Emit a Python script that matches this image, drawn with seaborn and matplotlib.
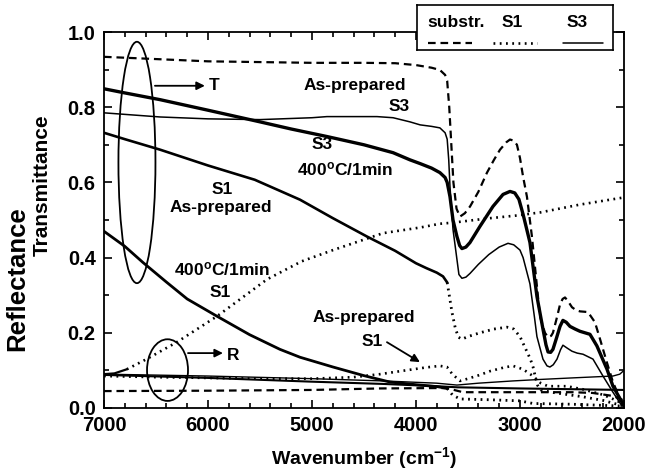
import matplotlib
matplotlib.use("Agg")
import matplotlib.pyplot as plt
import seaborn as sns
import pandas as pd
from matplotlib.patches import Ellipse
from matplotlib.ticker import MultipleLocator

# ---------------- data (wavenumber cm^-1, value) ----------------
substr_T = [(7000,0.934),(6500,0.928),(6000,0.922),(5500,0.920),(5000,0.918),(4500,0.918),(4200,0.917),
            (4000,0.912),(3850,0.905),(3770,0.899),(3720,0.886),(3700,0.870),(3680,0.800),(3660,0.700),
            (3640,0.600),(3610,0.530),(3577,0.509),(3530,0.518),(3480,0.536),(3400,0.575),(3317,0.626),
            (3250,0.660),(3192,0.687),(3130,0.707),(3096,0.714),(3060,0.711),(3029,0.700),(3000,0.665),
            (2970,0.615),(2933,0.562),(2885,0.456),(2837,0.324),(2808,0.244),(2760,0.200),(2730,0.188),
            (2700,0.192),(2683,0.200),(2650,0.235),(2615,0.275),(2590,0.290),(2567,0.294),(2540,0.285),
            (2500,0.268),(2460,0.260),(2423,0.257),(2380,0.256),(2346,0.255),(2279,0.228),(2230,0.183),
            (2163,0.120),(2106,0.069),(2038,0.024),(2000,0.005)]

S3_400_T = [(7000,0.849),(6800,0.838),(6460,0.820),(6000,0.792),(5500,0.761),(5200,0.742),(4856,0.722),
            (4500,0.700),(4220,0.679),(4058,0.660),(3960,0.650),(3850,0.638),(3770,0.626),(3720,0.613),
            (3700,0.600),(3673,0.562),(3644,0.500),(3606,0.456),(3580,0.432),(3558,0.424),(3520,0.428),
            (3481,0.440),(3385,0.483),(3260,0.536),(3163,0.568),(3096,0.576),(3050,0.572),(3010,0.555),
            (2970,0.515),(2904,0.440),(2837,0.297),(2779,0.210),(2750,0.168),(2730,0.149),(2705,0.148),
            (2683,0.156),(2650,0.185),(2615,0.217),(2587,0.233),(2555,0.228),(2519,0.217),(2470,0.210),
            (2423,0.204),(2327,0.196),(2260,0.165),(2163,0.103),(2106,0.058),(2020,0.016),(2000,0.005)]

S3_asp_T = [(7000,0.785),(6460,0.774),(6000,0.769),(5500,0.767),(5000,0.772),(4856,0.775),(4375,0.775),
            (4220,0.772),(4058,0.761),(3960,0.753),(3850,0.749),(3770,0.745),(3720,0.732),(3700,0.715),
            (3685,0.660),(3673,0.589),(3644,0.475),(3606,0.395),(3587,0.355),(3558,0.345),(3520,0.348),
            (3480,0.358),(3400,0.382),(3300,0.408),(3200,0.428),(3115,0.438),(3060,0.434),(3000,0.420),
            (2970,0.400),(2904,0.330),(2860,0.240),(2837,0.190),(2779,0.130),(2740,0.112),(2712,0.109),
            (2680,0.115),(2644,0.130),(2610,0.155),(2587,0.167),(2550,0.160),(2500,0.151),(2450,0.146),
            (2394,0.143),(2298,0.130),(2202,0.085),(2106,0.042),(2030,0.010),(2000,0.003)]

S1_asp_T = [(7000,0.732),(6800,0.715),(6460,0.687),(6000,0.645),(5550,0.607),(5115,0.554),(4800,0.505),
            (4471,0.456),(4200,0.418),(4000,0.385),(3900,0.372),(3800,0.360),(3740,0.350),(3700,0.334),
            (3680,0.300),(3654,0.255),(3620,0.210),(3590,0.188),(3558,0.183),(3500,0.190),(3385,0.200),
            (3250,0.210),(3125,0.215),(3060,0.210),(3000,0.190),(2950,0.160),(2900,0.130),(2875,0.110),
            (2850,0.080),(2830,0.060),(2800,0.048),(2700,0.042),(2600,0.038),(2400,0.030),(2200,0.020),
            (2000,0.005)]

S1_400_T = [(7000,0.470),(6800,0.430),(6625,0.387),(6400,0.335),(6200,0.290),(5913,0.244),(5600,0.195),
            (5308,0.156),(5115,0.135),(4798,0.109),(4500,0.086),(4250,0.069),(4000,0.062),(3800,0.057),
            (3700,0.052),(3650,0.035),(3577,0.024),(3300,0.022),(3000,0.019),(2875,0.012),(2500,0.010),
            (2000,0.005)]

S1_400_R = [(7000,0.090),(6900,0.092),(6780,0.103),(6590,0.130),(6300,0.175),(5913,0.244),(5433,0.342),
            (5100,0.390),(4798,0.420),(4317,0.465),(3960,0.480),(3770,0.490),(3644,0.493),(3317,0.504),
            (3029,0.512),(2808,0.520),(2423,0.541),(2000,0.560)]

S1_asp_R = [(7000,0.085),(6500,0.082),(6000,0.080),(5500,0.078),(5000,0.078),(4600,0.082),(4346,0.090),
            (4100,0.100),(3900,0.108),(3770,0.112),(3702,0.109),(3650,0.090),(3577,0.072),(3500,0.078),
            (3385,0.088),(3288,0.098),(3150,0.108),(3067,0.112),(2970,0.103),(2875,0.085),(2800,0.066),
            (2730,0.058),(2550,0.058),(2400,0.050),(2200,0.035),(2106,0.024),(2000,0.010)]

substr_R = [(7000,0.045),(6000,0.046),(5000,0.048),(4346,0.052),(3800,0.053),(3702,0.053),(3620,0.047),
            (3548,0.042),(3000,0.042),(2500,0.042),(2300,0.040),(2106,0.032),(2000,0.020)]

S3_asp_R = [(7000,0.090),(6000,0.085),(5000,0.078),(4317,0.072),(3800,0.066),(3606,0.061),(3400,0.066),
            (3067,0.072),(2800,0.076),(2500,0.080),(2106,0.085),(2040,0.090),(2000,0.100)]

S3_400_R = [(7000,0.088),(6000,0.080),(5000,0.070),(4317,0.064),(3800,0.058),(3600,0.055),(3000,0.052),
            (2500,0.050),(2000,0.048)]

x_ticks = [7000, 6000, 5000, 4000, 3000, 2000]
y_ticks = [0.0, 0.2, 0.4, 0.6, 0.8, 1.0]
legend_labels = ["substr.", "S1", "S3"]

# ---------------- style ----------------
sns.set_theme(style="ticks")
plt.rcParams.update({
    "font.family": ["Liberation Sans", "DejaVu Sans"],
    "font.weight": "bold",
    "axes.labelweight": "bold",
    "text.color": "black",
    "axes.labelcolor": "black",
    "xtick.color": "black",
    "ytick.color": "black",
    "mathtext.fontset": "custom",
    "mathtext.rm": "Liberation Sans:bold",
    "mathtext.it": "Liberation Sans:bold",
    "mathtext.bf": "Liberation Sans:bold",
    "lines.scale_dashes": False,
    "axes.linewidth": 1.3,
    "axes.edgecolor": "black",
})

DASH = (0, (5.5, 3.5))
DOT = (0, (1.3, 3.2))

fig = plt.figure(figsize=(6.45, 4.72), dpi=100)
ax = fig.add_axes([0.1612, 0.1356, 0.8062, 0.7966])


def draw(points, ls, lw, solid_from=None, solid_lw=None):
    df = pd.DataFrame(points, columns=["wn", "val"])
    if solid_from is None:
        sns.lineplot(data=df, x="wn", y="val", ax=ax, color="black", linestyle=ls,
                     linewidth=lw, sort=False, estimator=None)
    else:
        a = df[df.wn >= solid_from]
        b = df[df.wn <= solid_from]
        sns.lineplot(data=a, x="wn", y="val", ax=ax, color="black", linestyle="-",
                     linewidth=solid_lw, sort=False, estimator=None)
        sns.lineplot(data=b, x="wn", y="val", ax=ax, color="black", linestyle=ls,
                     linewidth=lw, sort=False, estimator=None)


draw(substr_T, DASH, 1.6)
draw(S3_400_T, "-", 2.4)
draw(S3_asp_T, "-", 1.1)
draw(S1_asp_T, DOT, 2.0, solid_from=3700, solid_lw=1.9)
draw(S1_400_T, DOT, 2.0, solid_from=3700, solid_lw=2.0)
draw(S1_400_R, DOT, 1.9, solid_from=6780, solid_lw=1.6)
draw(S1_asp_R, DOT, 1.9)
draw(substr_R, DASH, 1.6)
draw(S3_asp_R, "-", 1.0)
draw(S3_400_R, "-", 1.5)

ax.set_xlim(7000, 2000)
ax.set_ylim(0, 1.0)
ax.set_xticks(x_ticks)
ax.set_yticks(y_ticks)
ax.xaxis.set_minor_locator(MultipleLocator(200))
ax.yaxis.set_minor_locator(MultipleLocator(0.1))
ax.tick_params(which="both", direction="in", top=True, right=True, width=1.2,
               labelsize=14.5, colors="black")
ax.tick_params(which="major", length=6, pad=6)
ax.tick_params(which="minor", length=3.5)
for lab in ax.get_xticklabels() + ax.get_yticklabels():
    lab.set_fontweight("bold")
    lab.set_color("black")
ax.set_xlabel("Wavenumber (cm$^{-1}$)", fontsize=14, fontweight="bold", labelpad=7, color="black")
ax.set_ylabel("")
for s in ax.spines.values():
    s.set_visible(True)
    s.set_linewidth(1.3)
    s.set_color("black")

fig.text(0.026, 0.409, "Reflectance", rotation=90, ha="center", va="center",
         fontsize=18.5, fontweight="bold", color="black")
fig.text(0.065, 0.608, "Transmittance", rotation=90, ha="center", va="center",
         fontsize=15, fontweight="bold", color="black")

# ---------------- annotations ----------------
tk = dict(fontsize=12.5, fontweight="bold", ha="center", va="center", color="black")
ax.text(4587, 0.859, "As-prepared", **tk)
ax.text(4058, 0.801, "S3", fontsize=12.5, fontweight="bold", ha="right", va="center", color="black")
ax.text(4904, 0.700, "S3", **tk)
ax.text(4683, 0.634, "400$^{\\mathrm{o}}$C/1min", **tk)
ax.text(5865, 0.581, "S1", **tk)
ax.text(5875, 0.533, "As-prepared", **tk)
ax.text(5865, 0.369, "400$^{\\mathrm{o}}$C/1min", **tk)
ax.text(5885, 0.308, "S1", **tk)
ax.text(4500, 0.241, "As-prepared", **tk)
ax.text(4423, 0.178, "S1", **tk)
ax.text(5990, 0.857, "T", fontsize=12.5, fontweight="bold", ha="left", va="center", color="black")
ax.text(5820, 0.140, "R", fontsize=12.5, fontweight="bold", ha="left", va="center", color="black")

ax.add_patch(Ellipse((6683, 0.653), 356, 0.642, fill=False, lw=1.3, color="black"))
ax.add_patch(Ellipse((6389, 0.1008), 394, 0.164, fill=False, lw=1.3, color="black"))

arr = dict(arrowstyle="-|>", lw=1.3, color="black", mutation_scale=12, shrinkA=0, shrinkB=0)
ax.annotate("", xy=(6030, 0.857), xytext=(6510, 0.857), arrowprops=arr)
ax.annotate("", xy=(5856, 0.146), xytext=(6192, 0.146), arrowprops=arr)
ax.annotate("", xy=(3962, 0.122), xytext=(4279, 0.175), arrowprops=arr)

# ---------------- legend box (headers over line samples) ----------------
lax = fig.add_axes([0.6465, 0.894, 0.3035, 0.0953])
lax.set_xlim(0, 1)
lax.set_ylim(0, 1)
lax.set_xticks([])
lax.set_yticks([])
lax.set_facecolor("white")
for s in lax.spines.values():
    s.set_linewidth(1.2)
    s.set_color("black")
hx = [0.20, 0.485, 0.816]
for x, t in zip(hx, legend_labels):
    lax.text(x, 0.62, t, fontsize=12.5, fontweight="bold", ha="center", va="center", color="black")
lax.plot([0.056, 0.28], [0.16, 0.16], color="black", lw=1.6, linestyle=DASH)
lax.plot([0.388, 0.612], [0.16, 0.16], color="black", lw=1.9, linestyle=DOT)
lax.plot([0.745, 0.949], [0.16, 0.16], color="black", lw=1.1, linestyle="-")

fig.savefig("out.png", dpi=100)
